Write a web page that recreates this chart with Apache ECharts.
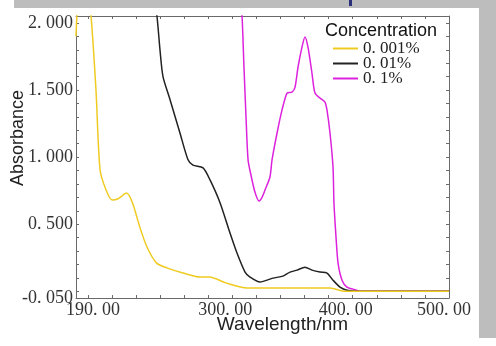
<!DOCTYPE html>
<html>
<head>
<meta charset="utf-8">
<script src="https://cdn.jsdelivr.net/npm/echarts@6/dist/echarts.min.js"></script>
<style>
  html, body { margin: 0; padding: 0; background: #fff; }
  #chart { width: 496px; height: 346px; }
</style>
</head>
<body>
<div id="chart"></div>
<script>
// UV-Vis absorption spectra at three concentrations
const seriesNames = ['0. 001%', '0. 01%', '0. 1%'];
const seriesColors = ['#EFCB22', '#222222', '#DD22DD'];

// 0.001 %
const wl001 = [190, 191, 193, 198, 202.5, 206.6, 210, 215, 220, 225, 232, 237, 243, 249, 257, 266, 279, 293, 301, 315, 332, 354, 382, 401, 414, 500];
const abs001 = [1.9, 2.1, 2.3, 2.4, 2.05, 1.5, 0.904, 0.755, 0.68, 0.69, 0.732, 0.658, 0.479, 0.33, 0.21, 0.173, 0.136, 0.106, 0.106, 0.061, 0.024, 0.024, 0.024, 0.024, 0.0, 0.0];

// 0.01 %
const wl01 = [252, 257.3, 259.8, 262.3, 268.1, 276.4, 283.1, 287.2, 295.6, 301.4, 309.7, 318, 323.8, 330.5, 334.6, 342.9, 353.7, 362, 367.9, 373.7, 380.3, 386.1, 392.8, 398.6, 403.6, 409.4, 415.2, 426, 500];
const abs01 = [2.4, 2.05, 1.80, 1.60, 1.43, 1.18, 0.98, 0.94, 0.92, 0.83, 0.66, 0.434, 0.285, 0.143, 0.106, 0.069, 0.098, 0.113, 0.143, 0.158, 0.18, 0.158, 0.143, 0.136, 0.083, 0.031, 0.008, 0.0, 0.0];

// 0.1 %
const wl1 = [325, 328, 329.6, 331.3, 333, 335.4, 338.7, 342.1, 344.6, 347.1, 351.2, 352.9, 357.1, 361.2, 365.4, 369.5, 372, 374.5, 377.8, 380.3, 382.8, 386.1, 388.6, 392.8, 396.9, 398.6, 401.1, 403.6, 404.4, 406.1, 407.8, 411.1, 415.2, 420.2, 426, 500];
const abs1 = [2.4, 2.05, 1.672, 1.30, 0.98, 0.867, 0.74, 0.673, 0.70, 0.755, 0.852, 0.978, 1.18, 1.35, 1.478, 1.485, 1.52, 1.67, 1.82, 1.896, 1.82, 1.627, 1.478, 1.44, 1.41, 1.35, 1.18, 0.926, 0.658, 0.404, 0.21, 0.083, 0.031, 0.016, 0.0, 0.0];

// axis ticks and labels
const xLabelValues = [190, 300, 400, 500];
const yLabelValues = [-0.05, 0.5, 1.0, 1.5, 2.0];
const xMin = 190, xMax = 500;
const yMin = -0.05, yMax = 2.052;

const xTickValues = [190];
for (let v = 200; v <= 500; v += 20) xTickValues.push(v);
const yTickValues = [-0.05];
for (let i = 0; i <= 20; i++) yTickValues.push(+(i * 0.1).toFixed(1));

const zip = (xs, ys) => xs.map((x, i) => [x, ys[i]]);
const spectra = [zip(wl001, abs001), zip(wl01, abs01), zip(wl1, abs1)];

const serifFont = '"Liberation Serif", "DejaVu Serif", serif';
const sansFont = '"Liberation Sans", Arial, sans-serif';
const frameColor = '#6a6a6a';

const chart = echarts.init(document.getElementById('chart'), null, { renderer: 'canvas' });

const frameAxis = {
  axisLine: { show: true, onZero: false, lineStyle: { color: frameColor, width: 1 } },
  axisLabel: { show: false },
  splitLine: { show: false }
};

chart.setOption({
  animation: false,
  backgroundColor: '#ffffff',
  grid: { left: 76, right: 47, top: 16, bottom: 48, containLabel: false, outerBoundsMode: 'none' },
  title: {
    text: 'Concentration',
    left: 325, top: 22, padding: 0,
    textStyle: { fontFamily: sansFont, fontSize: 18, fontWeight: 'normal', color: '#111' }
  },
  legend: {
    orient: 'vertical',
    left: 333, top: 40, padding: 0,
    itemWidth: 25, itemHeight: 2, itemGap: -2,
    icon: 'rect',
    data: seriesNames,
    textStyle: { fontFamily: serifFont, fontSize: 17, color: '#222', lineHeight: 14, height: 14 }
  },
  xAxis: [
    {
      type: 'value', min: xMin, max: xMax, position: 'bottom',
      name: 'Wavelength/nm', nameLocation: 'middle', nameGap: 17, nameMoveOverlap: false,
      nameTextStyle: { fontFamily: sansFont, fontSize: 19, color: '#222', padding: [0, 0, 0, 40] },
      axisLine: { show: true, onZero: false, lineStyle: { color: frameColor } },
      axisTick: { show: true, inside: true, length: 3, customValues: xTickValues, lineStyle: { color: frameColor } },
      axisLabel: {
        show: true, margin: 3,
        customValues: xLabelValues,
        formatter: v => (v === 500 ? '{m|' : '{n|') + v.toFixed(2).replace('.', '. ') + '}',
        rich: {
          n: { fontFamily: serifFont, fontSize: 18, color: '#333', padding: [0, 0, 0, 34] },
          m: { fontFamily: serifFont, fontSize: 18, color: '#333', padding: [0, 10, 0, 0] }
        }
      },
      splitLine: { show: false }
    },
    Object.assign({}, frameAxis, {
      type: 'value', min: xMin, max: xMax, position: 'top',
      axisTick: { show: true, inside: true, length: 3, customValues: xTickValues, lineStyle: { color: frameColor } }
    })
  ],
  yAxis: [
    {
      type: 'value', min: yMin, max: yMax, position: 'left',
      name: 'Absorbance', nameLocation: 'middle', nameGap: 49, nameMoveOverlap: false,
      nameTextStyle: { fontFamily: sansFont, fontSize: 18, color: '#222', padding: [0, 0, 0, 38] },
      axisLine: { show: true, onZero: false, lineStyle: { color: frameColor } },
      axisTick: { show: true, inside: true, length: 3, customValues: yTickValues, lineStyle: { color: frameColor } },
      axisLabel: {
        show: true, margin: 3,
        customValues: yLabelValues,
        formatter: v => v.toFixed(3).replace('.', '. '),
        fontFamily: serifFont, fontSize: 18, color: '#333'
      },
      splitLine: { show: false }
    },
    Object.assign({}, frameAxis, {
      type: 'value', min: yMin, max: yMax, position: 'right',
      axisTick: { show: true, inside: true, length: 3, customValues: yTickValues, lineStyle: { color: frameColor } }
    })
  ],
  series: seriesNames.map((name, i) => ({
    name: name,
    type: 'line',
    data: spectra[i],
    xAxisIndex: 0, yAxisIndex: 0,
    showSymbol: false,
    smooth: 0.25,
    clip: true,
    lineStyle: { color: seriesColors[i], width: 1.5 },
    itemStyle: { color: seriesColors[i] },
    z: 3 - i
  })),
  graphic: [
    // grey page margins around the figure
    { type: 'rect', shape: { x: 14, y: 0, width: 482, height: 8 }, style: { fill: '#bdbdbd' }, silent: true },
    { type: 'rect', shape: { x: 479, y: 0, width: 17, height: 338 }, style: { fill: '#bdbdbd' }, silent: true },
    { type: 'rect', shape: { x: 349, y: 0, width: 3, height: 6 }, style: { fill: '#2b2f7a' }, silent: true }
  ]
});
</script>
</body>
</html>
